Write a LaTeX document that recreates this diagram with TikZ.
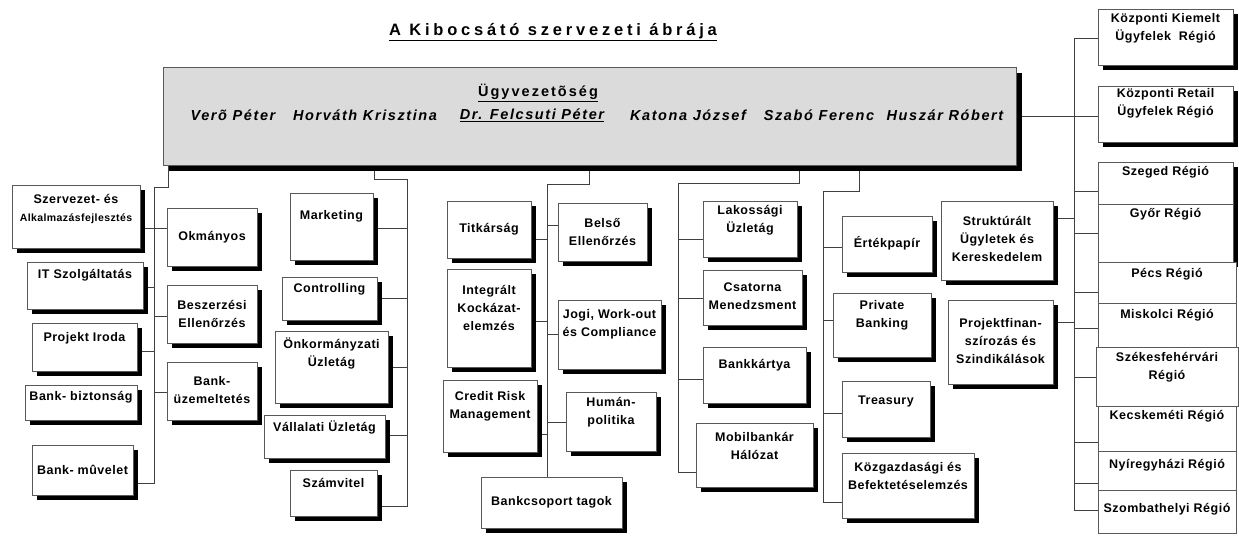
\documentclass[tikz,border=0pt]{standalone}
\usepackage{fontspec}
\setmainfont{Liberation Sans}
\newfontfamily\bxfont[LetterSpace=4]{Liberation Sans}
\newfontfamily\ttlfont[LetterSpace=23]{Liberation Sans}
\newfontfamily\nmfont[LetterSpace=11]{Liberation Sans}
\newfontfamily\hdfont[LetterSpace=14]{Liberation Sans}
\usetikzlibrary{fit,shadows}
\definecolor{boxgray}{gray}{0.35}
\definecolor{conngray}{gray}{0.25}
\definecolor{topfill}{gray}{0.86}
\pgfdeclarelayer{conns}
\pgfsetlayers{conns,main}
\tikzset{
  bx/.style={draw=boxgray, fill=white, line width=0.8pt, inner sep=0pt,
    drop shadow={shadow xshift=5pt, shadow yshift=-5pt, fill=black, opacity=1}},
  bxns/.style={draw=boxgray, fill=white, line width=0.8pt, inner sep=0pt},
  lbl/.style={font=\bxfont\bfseries\fontsize{12.5}{18}\selectfont, align=center, inner sep=0pt},
  nm/.style={font=\nmfont\bfseries\itshape\fontsize{14.5}{17}\selectfont, inner sep=0pt},
  conn/.style={draw=conngray, line width=0.8pt},
}
\newcommand\obox[8][bx]{%
  \node[#1, fit={(#3,#4) (#5,#6)}] (#2) {};
  \node[lbl] (#2-t) at ({(#3+#5)/2},#7) {#8};}
\begin{document}
\begin{tikzpicture}[x=1pt,y=-1pt]
\useasboundingbox (0,0) rectangle (1239,547);
% title
\node[font=\ttlfont\bfseries\fontsize{16.5}{20}\selectfont, inner sep=0pt] (title) at (553,32) {\underline{A Kibocsátó szervezeti ábrája}};
% top box
\node[fit={(163,67) (1016,165)}, draw=boxgray, fill=topfill, line width=0.8pt, inner sep=0pt,
  drop shadow={shadow xshift=6pt, shadow yshift=-6pt, fill=black, opacity=1}] (top) {};
\node[font=\hdfont\bfseries\fontsize{14.5}{17}\selectfont, inner sep=0pt] (ugy) at (538,93) {\underline{Ügyvezetõség}};
\node[nm] (n1) at (233,115) {Verõ Péter};
\node[nm] (n2) at (365,115) {Horváth Krisztina};
\node[nm] (n3) at (532,115) {\underline{Dr. Felcsuti Péter}};
\node[nm] (n4) at (688,115) {Katona József};
\node[nm] (n5) at (819,115) {Szabó Ferenc};
\node[nm] (n6) at (945,115) {Huszár Róbert};
% group 1
\obox{szerv}{12}{185}{140}{248}{209}{Szervezet- és\\{\fontsize{10.5}{16}\selectfont Alkalmazásfejlesztés}}
\obox{okm}{167}{208}{257}{266}{237}{Okmányos}
\obox{it}{27}{262}{143}{309}{275}{IT Szolgáltatás}
\obox{besz}{167}{285}{257}{343}{313.5}{Beszerzési\\Ellenőrzés}
\obox{proj}{32}{323}{137}{371}{338}{Projekt Iroda}
\obox{bzem}{167}{362}{257}{420}{390.5}{Bank-\\üzemeltetés}
\obox{bbizt}{25}{385}{137}{420}{397}{Bank- biztonság}
\obox{bmuv}{32}{445}{133}{495}{470}{Bank- mûvelet}
% group 2
\obox{mkt}{290}{193}{373}{260}{216}{Marketing}
\obox{ctrl}{282}{277}{377}{320}{289}{Controlling}
\obox{onk}{275}{331}{388}{403}{353.5}{Önkormányzati\\Üzletág}
\obox{vall}{264}{415}{385}{458}{427}{Vállalati Üzletág}
\obox{szamv}{290}{470}{377}{516}{483}{Számvitel}
% group 3
\obox{titk}{447}{201}{531}{258}{229}{Titkárság}
\obox{bels}{558}{203}{647}{261}{232}{Belső\\Ellenőrzés}
\obox{integ}{447}{269}{531}{367}{308}{Integrált\\Kockázat-\\elemzés}
\obox{jogi}{558}{300}{661}{369}{324}{Jogi, Work-out\\és Compliance}
\obox{crm}{443}{380}{537}{452}{406}{Credit Risk\\Management}
\obox{human}{566}{392}{656}{451}{412}{Humán-\\politika}
\obox{bcs}{481}{477}{622}{528}{502}{Bankcsoport tagok}
% group 4
\obox{lak}{703}{201}{797}{257}{220.5}{Lakossági\\Üzletág}
\obox{csat}{703}{270}{802}{325}{296}{Csatorna\\Menedzsment}
\obox{bkart}{703}{347}{806}{403}{365}{Bankkártya}
\obox{mobil}{696}{423}{813}{487}{445.5}{Mobilbankár\\Hálózat}
% group 5
\obox{ertek}{842}{216}{932}{272}{243}{Értékpapír}
\obox{priv}{833}{293}{931}{357}{315}{Private\\Banking}
\obox{treas}{842}{381}{930}{437}{401}{Treasury}
\obox{kozg}{842}{453}{974}{518}{476}{Közgazdasági és\\Befektetéselemzés}
\obox{strukt}{941}{201}{1053}{280}{239}{Struktúrált\\Ügyletek és\\Kereskedelem}
\obox{pfin}{948}{300}{1053}{384}{341.5}{Projektfinan-\\szírozás és\\Szindikálások}
% right column
\obox{kkiem}{1098}{9}{1233}{65}{28}{Központi Kiemelt\\Ügyfelek\ \ Régió}
\obox{kret}{1098}{86}{1233}{142}{103.5}{Központi Retail\\Ügyfelek Régió}
\obox{szeg}{1098}{162}{1233}{204}{172}{Szeged Régió}
\obox{gyor}{1098}{204}{1233}{262}{214}{Győr Régió}
\obox[bxns]{pecs}{1098}{262}{1236}{303}{274}{Pécs Régió}
\obox[bxns]{misk}{1098}{303}{1236}{347}{315}{Miskolci Régió}
\obox[bxns]{szfv}{1096}{347}{1238}{406}{367.5}{Székesfehérvári\\Régió}
\obox[bxns]{kecs}{1098}{406}{1236}{451}{416}{Kecskeméti Régió}
\obox[bxns]{nyir}{1098}{451}{1236}{490}{465}{Nyíregyházi Régió}
\obox[bxns]{szomb}{1098}{490}{1236}{533}{509}{Szombathelyi Régió}
% connectors
\coordinate (T1) at (154,187);
\coordinate (T2) at (407,179);
\coordinate (T3) at (547,184);
\coordinate (T4) at (678,183);
\coordinate (T5) at (823,191);
\coordinate (T6) at (1074,38);
\begin{pgfonlayer}{conns}
% group 1
\draw[conn] (top.south -| 168,0) |- (T1) -- (T1 |- 0,483) -- (bmuv.east |- 0,483);
\draw[conn] (szerv.east |- 0,228) -- (okm.west |- 0,228);
\draw[conn] (it.east |- 0,287) -- (T1 |- 0,287);
\draw[conn] (T1 |- 0,316) -- (besz.west |- 0,316);
\draw[conn] (proj.east |- 0,351) -- (T1 |- 0,351);
\draw[conn] (T1 |- 0,392) -- (bzem.west |- 0,392);
% group 2
\draw[conn] (top.south -| 374,0) |- (T2) -- (T2 |- 0,506) -- (szamv.east |- 0,506);
\draw[conn] (mkt.east |- 0,228) -- (T2 |- 0,228);
\draw[conn] (ctrl.east |- 0,298) -- (T2 |- 0,298);
\draw[conn] (onk.east |- 0,367) -- (T2 |- 0,367);
\draw[conn] (vall.east |- 0,435) -- (T2 |- 0,435);
% group 3
\draw[conn] (top.south -| 589,0) |- (T3) -- (bcs.north -| T3);
\draw[conn] (titk.east |- 0,239) -- (T3 |- 0,239);
\draw[conn] (T3 |- 0,225) -- (bels.west |- 0,225);
\draw[conn] (integ.east |- 0,321) -- (T3 |- 0,321);
\draw[conn] (T3 |- 0,334) -- (jogi.west |- 0,334);
\draw[conn] (crm.east |- 0,434) -- (T3 |- 0,434);
\draw[conn] (T3 |- 0,422) -- (human.west |- 0,422);
% group 4
\draw[conn] (top.south -| 799,0) |- (T4) -- (T4 |- 0,472) -- (mobil.west |- 0,472);
\draw[conn] (T4 |- 0,239) -- (lak.west |- 0,239);
\draw[conn] (T4 |- 0,298) -- (csat.west |- 0,298);
\draw[conn] (T4 |- 0,379) -- (bkart.west |- 0,379);
% group 5
\draw[conn] (top.south -| 859,0) |- (T5) -- (T5 |- 0,502) -- (kozg.west |- 0,502);
\draw[conn] (T5 |- 0,247) -- (ertek.west |- 0,247);
\draw[conn] (T5 |- 0,320) -- (priv.west |- 0,320);
\draw[conn] (T5 |- 0,413) -- (treas.west |- 0,413);
% right column
\draw[conn] (top.east |- 0,116) -- (kret.west |- 0,116);
\draw[conn] (kkiem.west |- 0,38) -- (T6) -- (T6 |- 0,510) -- (szomb.west |- 0,510);
\draw[conn] (T6 |- 0,191) -- (szeg.west |- 0,191);
\draw[conn] (T6 |- 0,233) -- (gyor.west |- 0,233);
\draw[conn] (T6 |- 0,292) -- (pecs.west |- 0,292);
\draw[conn] (T6 |- 0,328) -- (misk.west |- 0,328);
\draw[conn] (T6 |- 0,377) -- (szfv.west |- 0,377);
\draw[conn] (T6 |- 0,442) -- (kecs.west |- 0,442);
\draw[conn] (T6 |- 0,483) -- (nyir.west |- 0,483);
\draw[conn] (strukt.east |- 0,218) -- (T6 |- 0,218);
\draw[conn] (pfin.east |- 0,322) -- (T6 |- 0,322);
\end{pgfonlayer}
\end{tikzpicture}
\end{document}
